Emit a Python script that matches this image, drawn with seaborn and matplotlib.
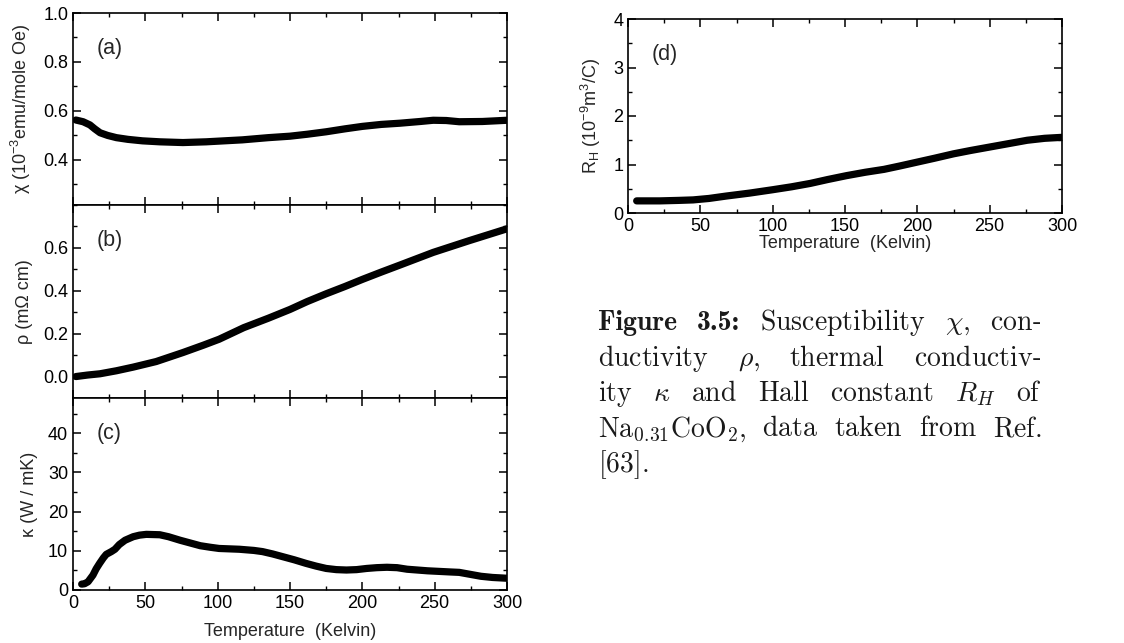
import numpy as np
import pandas as pd
import matplotlib
matplotlib.use("Agg")
import matplotlib.pyplot as plt
from matplotlib.ticker import MultipleLocator, FormatStrFormatter
import seaborn as sns

# ---------------- data ----------------
T_chi = [2, 7, 11.7, 15, 18.7, 24, 30, 38, 48, 60, 76, 92, 117, 135, 150, 162, 175,
         188, 200, 213, 226, 240, 249, 258, 267, 283, 300]
chi = [0.563, 0.556, 0.543, 0.527, 0.511, 0.500, 0.491, 0.484, 0.478, 0.474, 0.471,
       0.474, 0.482, 0.491, 0.497, 0.505, 0.515, 0.527, 0.537, 0.545, 0.550, 0.557,
       0.562, 0.561, 0.556, 0.557, 0.562]

T_rho = [2, 10, 18.7, 30, 41.6, 57.5, 76, 90, 101, 118, 135, 150, 162, 175, 188, 200,
         213, 226, 249, 274, 300]
rho = [0.0, 0.007, 0.013, 0.027, 0.044, 0.070, 0.112, 0.146, 0.174, 0.228, 0.272,
       0.313, 0.350, 0.386, 0.420, 0.453, 0.487, 0.520, 0.579, 0.634, 0.689]

T_kappa = [6, 8, 10.4, 13.8, 16, 18.4, 21, 23, 26.5, 29, 32, 36, 41.6, 46, 50.7, 60,
           66, 74, 81, 88, 95, 101, 115, 125, 131, 138, 145, 153, 161, 168, 175, 182,
           189, 196, 203, 210, 217, 224, 231, 245, 261, 267, 273, 282, 290, 300]
kappa = [1.5, 1.6, 2.1, 3.8, 5.4, 6.8, 8.2, 9.1, 9.8, 10.4, 11.6, 12.7, 13.6, 14.0,
         14.2, 14.1, 13.6, 12.7, 12.0, 11.3, 10.9, 10.6, 10.4, 10.1, 9.8, 9.2, 8.5,
         7.7, 6.8, 6.1, 5.5, 5.2, 5.1, 5.2, 5.5, 5.7, 5.8, 5.7, 5.3, 4.9, 4.6, 4.5,
         4.1, 3.5, 3.2, 3.0]

T_RH = [6, 22, 35, 45, 56, 68, 84, 100, 113, 126, 138, 151, 164, 177, 188, 200, 212,
        225, 237, 250, 263, 276, 288, 300]
RH = [0.25, 0.25, 0.26, 0.27, 0.30, 0.35, 0.41, 0.48, 0.54, 0.61, 0.69, 0.77, 0.84,
      0.90, 0.97, 1.05, 1.13, 1.22, 1.29, 1.36, 1.43, 1.50, 1.54, 1.56]

panel_labels = ["(a)", "(b)", "(c)", "(d)"]
ylabels = [r"χ (10$^{-3}$emu/mole Oe)", r"ρ (mΩ cm)", r"κ (W / mK)",
           r"R$_\mathrm{H}$ (10$^{-9}$m$^3$/C)"]
xlabel = "Temperature  (Kelvin)"

# (word, is_bold_plain_text)
caption_lines = [
    [("Figure", True), ("3.5:", True), (r"$\mathrm{Susceptibility}$", False),
     (r"$\chi,$", False), (r"$\mathrm{con}$-", False)],
    [(r"$\mathrm{ductivity}$", False), (r"$\rho,$", False), (r"$\mathrm{thermal}$", False),
     (r"$\mathrm{conductiv}$-", False)],
    [(r"$\mathrm{ity}$", False), (r"$\kappa$", False), (r"$\mathrm{and}$", False),
     (r"$\mathrm{Hall}$", False), (r"$\mathrm{constant}$", False), (r"$R_H$", False),
     (r"$\mathrm{of}$", False)],
    [(r"$\mathrm{Na}_{0.31}\mathrm{CoO}_2,$", False), (r"$\mathrm{data}$", False),
     (r"$\mathrm{taken}$", False), (r"$\mathrm{from}$", False), (r"$\mathrm{Ref.}$", False)],
    [(r"$[63].$", False)],
]

# ---------------- style ----------------
sns.set_style("ticks")
plt.rcParams["font.family"] = ["Liberation Sans", "DejaVu Sans"]
plt.rcParams["mathtext.fontset"] = "custom"
plt.rcParams["mathtext.rm"] = "Liberation Sans"
plt.rcParams["mathtext.it"] = "Liberation Sans:italic"
plt.rcParams["mathtext.bf"] = "Liberation Sans:bold"
plt.rcParams["axes.linewidth"] = 1.2
plt.rcParams["axes.edgecolor"] = "black"

W, H = 1124, 643
fig = plt.figure(figsize=(W / 100, H / 100), dpi=100)

def rect(x0, top, x1, bottom):
    return [x0 / W, 1 - bottom / H, (x1 - x0) / W, (bottom - top) / H]

ax_a = fig.add_axes(rect(73, 13, 507, 205))
ax_b = fig.add_axes(rect(73, 205, 507, 398))
ax_c = fig.add_axes(rect(73, 398, 507, 590))
ax_d = fig.add_axes(rect(628, 19, 1062, 213))

FS = 13
series = [(ax_a, T_chi, chi), (ax_b, T_rho, rho), (ax_c, T_kappa, kappa), (ax_d, T_RH, RH)]
for ax, x, y in series:
    sns.lineplot(x=x, y=y, ax=ax, color="black", lw=5.2, solid_capstyle="round",
                 solid_joinstyle="round", estimator=None, sort=True)
    ax.set_xlim(0, 300)
    ax.xaxis.set_major_locator(MultipleLocator(50))
    ax.xaxis.set_minor_locator(MultipleLocator(25))
    ax.tick_params(which="both", direction="in", top=True, right=True,
                   labelsize=FS, colors="black")
    ax.tick_params(which="major", length=6, width=1.1)
    ax.tick_params(which="minor", length=3, width=1.0)

ax_a.set_ylim(0.216, 1.0)
ax_a.set_yticks([0.4, 0.6, 0.8, 1.0])
ax_a.yaxis.set_minor_locator(MultipleLocator(0.1))
ax_a.yaxis.set_major_formatter(FormatStrFormatter("%.1f"))

ax_b.set_ylim(-0.1, 0.8)
ax_b.set_yticks([0.0, 0.2, 0.4, 0.6])
ax_b.yaxis.set_minor_locator(MultipleLocator(0.1))
ax_b.yaxis.set_major_formatter(FormatStrFormatter("%.1f"))

ax_c.set_ylim(0, 49)
ax_c.set_yticks([0, 10, 20, 30, 40])
ax_c.yaxis.set_minor_locator(MultipleLocator(5))

ax_d.set_ylim(0, 4)
ax_d.set_yticks([0, 1, 2, 3, 4])
ax_d.yaxis.set_minor_locator(MultipleLocator(0.5))

for ax in (ax_a, ax_b):
    ax.tick_params(labelbottom=False)
    ax.set_xlabel("")

ax_c.set_xlabel(xlabel, fontsize=FS, labelpad=8)
ax_d.set_xlabel(xlabel, fontsize=FS, labelpad=0)

for ax, lab, yl in zip([ax_a, ax_b, ax_c, ax_d], panel_labels, ylabels):
    ax.set_ylabel(yl, fontsize=FS, labelpad=7)
    ax.text(0.055, 0.87, lab, transform=ax.transAxes, fontsize=15.5,
            ha="left", va="top")

fig.align_ylabels([ax_a, ax_b, ax_c])

# ---------------- caption (justified) ----------------
renderer = fig.canvas.get_renderer()
left_px, right_px = 598, 1042
base_y = [330, 365.5, 401, 436.5, 472]
for words, by in zip(caption_lines, base_y):
    texts = []
    for w, bold in words:
        if bold:
            t = fig.text(0, 1 - by / H, w, fontsize=20, family="cmb10",
                         ha="left", va="baseline", color="#1a1a1a")
        else:
            t = fig.text(0, 1 - by / H, w, fontsize=20, math_fontfamily="cm",
                         ha="left", va="baseline", color="#1a1a1a")
        texts.append(t)
    widths = [t.get_window_extent(renderer).width for t in texts]
    if len(texts) > 1:
        gap = (right_px - left_px - sum(widths)) / (len(texts) - 1)
    else:
        gap = 0
    x = left_px
    for t, w in zip(texts, widths):
        t.set_x(x / W)
        x += w + gap

fig.savefig("out.png", dpi=100)
